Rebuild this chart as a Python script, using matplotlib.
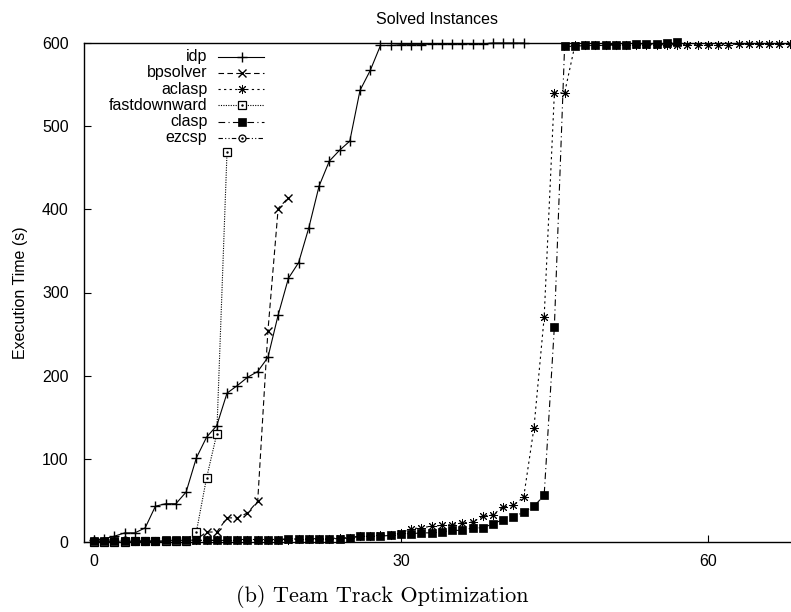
import numpy as np
import matplotlib
matplotlib.use('Agg')
import matplotlib.pyplot as plt

plt.rcParams['font.family'] = ['Liberation Sans', 'DejaVu Sans']

# sorted solve times per solver (instance index -> seconds)
idp_time = [2, 4, 7, 11, 11, 17, 43, 46, 46, 60, 101, 126, 140, 179, 188, 198, 205, 222,
            273, 317, 336, 378, 428, 458, 471, 482, 543, 567, 597, 597, 598, 598, 598, 599,
            599, 599, 599, 599, 599, 600, 600, 600, 600]
bpsolver_time = [0, 0, 0, 1, 1, 1, 1, 1, 1, 2, 3, 12, 12, 29, 29, 35, 49, 254, 401, 414]
aclasp_time = [1, 1, 1, 1, 1, 1, 1, 1, 1, 1, 2, 2, 2, 2, 2, 2, 2, 3, 3, 3, 4, 4, 4, 4, 5,
               5, 7, 7, 8, 9, 11, 16, 17, 19, 20, 21, 23, 24, 31, 33, 42, 44, 54, 137, 270,
               540, 540, 597, 597, 597, 597, 598, 598, 598, 598, 598, 598, 598, 598, 598,
               598, 598, 598, 599, 599, 599, 599, 599, 599]
fastdownward_time = [0, 0, 0, 0, 1, 1, 1, 1, 1, 1, 12, 77, 130, 469]
clasp_time = [1, 1, 1, 1, 1, 1, 1, 2, 2, 2, 2, 2, 2, 3, 3, 3, 3, 3, 3, 4, 4, 4, 4, 4, 4,
              5, 7, 7, 7, 8, 10, 10, 11, 11, 12, 14, 14, 17, 17, 22, 27, 30, 36, 43, 56,
              259, 596, 596, 597, 597, 598, 598, 598, 599, 599, 599, 600, 601]
ezcsp_time = [1, 1, 1, 2]

series = [
    ("idp", idp_time, dict(linestyle='-', marker='+', markersize=6.5, mew=1.0), 3),
    ("bpsolver", bpsolver_time, dict(linestyle=(0, (5, 3)), marker='x', markersize=5.5, mew=1.0), 3),
    ("aclasp", aclasp_time, dict(linestyle=(0, (2, 3)), marker=(8, 2, 0), markersize=6.5, mew=0.7), 3),
    ("fastdownward", fastdownward_time, dict(linestyle=(0, (1, 1.2)), marker='s', markersize=5.5,
                                             mfc='white', mew=0.9), 3),
    ("clasp", clasp_time, dict(linestyle=(0, (6, 3, 1, 3)), marker='s', markersize=6.3,
                               mfc='black', mew=0.5), 4),
    ("ezcsp", ezcsp_time, dict(linestyle=(0, (4, 2, 1, 2, 1, 2)), marker='o', markersize=5,
                               mfc='white', mew=0.9), 2),
]

fig = plt.figure(figsize=(7.91, 6.12), dpi=100)
ax = fig.add_axes([84 / 791, 70 / 612, 707 / 791, 499 / 612])

for name, times, style, z in series:
    xs = np.arange(len(times))
    ax.plot(xs, times, color='black', lw=0.8, clip_on=False, zorder=z, **style)
    if style['marker'] in ('s', 'o') and style.get('mfc') == 'white':
        # small dot in the middle of the open markers
        ax.plot(xs, times, color='black', linestyle='none', marker='.', markersize=1.5,
                clip_on=False, zorder=z)

ax.set_xlim(-0.98, 68.13)
ax.set_ylim(0, 600)
ax.set_xticks([0, 30, 60])
ax.set_yticks(range(0, 601, 100))
ax.tick_params(direction='in', length=5, width=0.8, labelsize=11.5, pad=11)
ax.tick_params(axis='x', pad=9)
ax.spines['right'].set_visible(False)
for s in ax.spines.values():
    s.set_linewidth(1.0)

ax.set_title("Solved Instances", fontsize=11.5, pad=14)
ax.set_ylabel("Execution Time (s)", fontsize=11.5, labelpad=10)

# gnuplot style key: label right aligned, sample to its right
y0, dy = 0.9725, 0.0325
for i, (name, times, style, z) in enumerate(series):
    yk = y0 - i * dy
    ax.text(0.1744, yk, name, transform=ax.transAxes, ha='right', va='center', fontsize=11.5)
    ax.plot([0.1895, 0.2546], [yk, yk], transform=ax.transAxes, color='black', lw=0.8,
            linestyle=style['linestyle'], clip_on=False)
    mstyle = {k: v for k, v in style.items() if k != 'linestyle'}
    ax.plot([0.2235], [yk], transform=ax.transAxes, color='black', linestyle='none',
            clip_on=False, **mstyle)
    if style['marker'] in ('s', 'o') and style.get('mfc') == 'white':
        ax.plot([0.2235], [yk], transform=ax.transAxes, color='black', linestyle='none',
                marker='.', markersize=1.5, clip_on=False)

fig.text(382 / 791, 1 - 597 / 612, "(b) Team Track Optimization", family='cmr10',
         fontsize=16, ha='center', va='center')

fig.savefig("out.png", dpi=100, facecolor='white')
